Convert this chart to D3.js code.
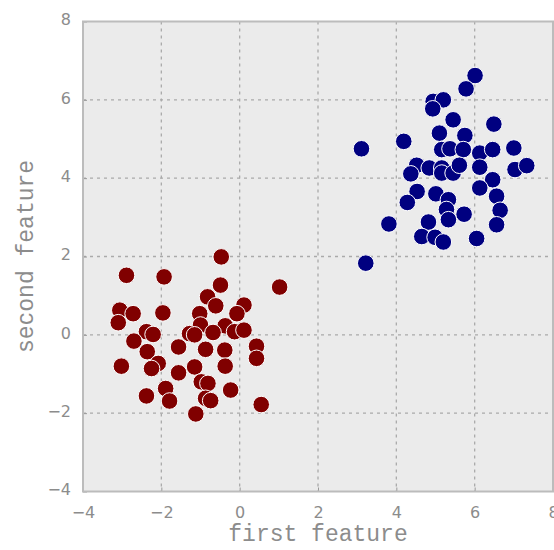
<!DOCTYPE html>
<html>
<head>
<meta charset="utf-8">
<script src="https://cdn.jsdelivr.net/npm/d3@7"></script>
<style>
  html, body { margin: 0; padding: 0; background: #ffffff; }
  svg { display: block; }
</style>
</head>
<body>
<div id="chart"></div>
<script>
// Class 0 (blue cluster)
const blueX = [6.01, 5.78, 4.94, 5.20, 4.93, 5.45, 6.49, 5.10, 5.75, 4.19, 3.11, 5.16, 5.37, 5.71, 6.13, 6.46, 7.00, 7.03, 7.33, 4.52, 4.37, 4.84, 5.16, 5.16, 5.45, 5.61, 6.13, 6.46, 6.13, 4.53, 5.01, 4.28, 5.33, 6.56, 5.28, 6.65, 5.33, 5.73, 3.81, 4.82, 6.56, 4.65, 4.99, 5.20, 6.05, 3.22];
const blueY = [6.62, 6.28, 5.96, 6.00, 5.77, 5.49, 5.38, 5.15, 5.09, 4.94, 4.75, 4.73, 4.75, 4.73, 4.64, 4.73, 4.77, 4.22, 4.32, 4.33, 4.11, 4.26, 4.26, 4.13, 4.13, 4.33, 4.28, 3.96, 3.75, 3.66, 3.60, 3.38, 3.45, 3.54, 3.20, 3.18, 2.94, 3.08, 2.83, 2.88, 2.81, 2.51, 2.49, 2.37, 2.46, 1.83];

// Class 1 (red cluster)
const redX = [-0.47, -2.89, -1.93, 1.02, -0.49, -0.82, -0.61, 0.11, -0.07, -3.06, -2.72, -1.96, -1.02, -3.10, -1.00, -0.37, -0.13, 0.11, -2.38, -2.21, -1.28, -1.15, -0.68, -2.70, -1.56, -0.87, -0.38, 0.43, -2.36, 0.43, -3.02, -2.08, -2.25, -1.15, -0.37, -1.56, -0.98, -0.81, -1.89, -0.23, -2.38, -1.79, -0.87, -0.74, 0.55, -1.12];
const redY = [1.99, 1.52, 1.48, 1.22, 1.27, 0.97, 0.74, 0.76, 0.54, 0.63, 0.54, 0.56, 0.54, 0.31, 0.25, 0.23, 0.08, 0.12, 0.08, 0.01, 0.03, 0.00, 0.06, -0.16, -0.31, -0.37, -0.39, -0.29, -0.43, -0.60, -0.80, -0.73, -0.86, -0.82, -0.80, -0.97, -1.20, -1.24, -1.37, -1.41, -1.56, -1.69, -1.62, -1.68, -1.78, -2.02];

const xTicks = [-4, -2, 0, 2, 4, 6, 8];
const yTicks = [-4, -2, 0, 2, 4, 6, 8];
const xLabel = "first feature";
const yLabel = "second feature";

(function () {
const W = 554, H = 550;
const mLeft = 83, mRight = 553, mTop = 21.5, mBottom = 491.5;

const svg = d3.select("#chart").append("svg").attr("width", W).attr("height", H);

const x = d3.scaleLinear().domain([-4, 8]).range([mLeft, mRight]);
const y = d3.scaleLinear().domain([-4, 8]).range([mBottom, mTop]);

// background
svg.append("rect")
  .attr("x", mLeft).attr("y", mTop)
  .attr("width", mRight - mLeft).attr("height", mBottom - mTop)
  .attr("fill", "#ebebeb");

// grid
svg.append("g").selectAll("line").data(xTicks.filter(t => t > -4 && t < 8)).join("line")
  .attr("x1", d => x(d)).attr("x2", d => x(d))
  .attr("y1", mTop).attr("y2", mBottom)
  .attr("stroke", "#aaaaaa").attr("stroke-width", 1.3)
  .attr("stroke-dasharray", "3,4");
svg.append("g").selectAll("line").data(yTicks.filter(t => t > -4 && t < 8)).join("line")
  .attr("y1", d => y(d)).attr("y2", d => y(d))
  .attr("x1", mLeft).attr("x2", mRight)
  .attr("stroke", "#aaaaaa").attr("stroke-width", 1.3)
  .attr("stroke-dasharray", "3,4");

// axes (ticks inward, labels)
const fmt = d => d < 0 ? "\u2212" + Math.abs(d) : String(d);
const xAxis = d3.axisBottom(x).tickValues(xTicks).tickSize(-4).tickPadding(12).tickFormat(fmt);
const yAxis = d3.axisLeft(y).tickValues(yTicks).tickSize(-4).tickPadding(12).tickFormat(fmt);

const gx = svg.append("g").attr("transform", `translate(0,${mBottom})`).call(xAxis);
const gy = svg.append("g").attr("transform", `translate(${mLeft},0)`).call(yAxis);
[gx, gy].forEach(g => {
  g.select(".domain").remove();
  g.selectAll(".tick line").attr("stroke", "#999999").attr("stroke-width", 1);
  g.selectAll(".tick text")
    .attr("fill", "#8c8c8c")
    .style("font-family", "'DejaVu Sans', sans-serif")
    .style("font-size", "16px");
});
gx.selectAll(".tick text").attr("dy", "0.9em");
gy.selectAll(".tick text").attr("dy", "0.2em");

// points
const blue = blueX.map((v, i) => ({x: v, y: blueY[i]}));
const red = redX.map((v, i) => ({x: v, y: redY[i]}));
const pts = svg.append("g");
pts.selectAll("circle.b").data(blue).join("circle").attr("class", "b")
  .attr("cx", d => x(d.x)).attr("cy", d => y(d.y)).attr("r", 8.3)
  .attr("fill", "#000080").attr("stroke", "#ffffff").attr("stroke-width", 1);
pts.selectAll("circle.r").data(red).join("circle").attr("class", "r")
  .attr("cx", d => x(d.x)).attr("cy", d => y(d.y)).attr("r", 8.3)
  .attr("fill", "#800000").attr("stroke", "#ffffff").attr("stroke-width", 1);

// frame
svg.append("rect")
  .attr("x", mLeft).attr("y", mTop)
  .attr("width", mRight - mLeft).attr("height", mBottom - mTop)
  .attr("fill", "none").attr("stroke", "#bcbcbc").attr("stroke-width", 2);

// axis labels
svg.append("text")
  .attr("x", (mLeft + mRight) / 2).attr("y", 541)
  .attr("text-anchor", "middle")
  .attr("fill", "#8c8c8c")
  .style("font-family", "'Liberation Mono', monospace")
  .style("font-size", "23px")
  .text(xLabel);
svg.append("text")
  .attr("transform", `translate(33,${(mTop + mBottom) / 2}) rotate(-90)`)
  .attr("text-anchor", "middle")
  .attr("fill", "#8c8c8c")
  .style("font-family", "'Liberation Mono', monospace")
  .style("font-size", "23px")
  .text(yLabel);
})();
</script>
</body>
</html>
